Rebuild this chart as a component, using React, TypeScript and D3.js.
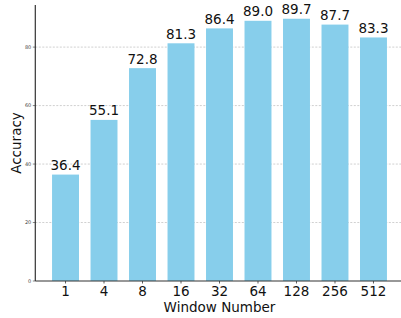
import * as d3 from 'd3'

const WINDOWS = ['1', '4', '8', '16', '32', '64', '128', '256', '512']
const ACCURACY = [36.4, 55.1, 72.8, 81.3, 86.4, 89.0, 89.7, 87.7, 83.3]
const Y_TICKS = [0, 20, 40, 60, 80]

const WIDTH = 401
const HEIGHT = 318
const FONT = 'DejaVu Sans, sans-serif'

export default function App() {
  const x = d3.scaleLinear().domain([-0.785, 8.785]).range([35.3, 403.7])
  const y = d3.scaleLinear().domain([0, 94.4]).range([281, 5])
  const barWidth = (x(0.7) - x(0)) as number

  return (
    <svg
      width={WIDTH}
      height={HEIGHT}
      style={{ position: 'absolute', left: 0, top: 0, background: '#fff' }}
      fontFamily={FONT}
    >
      {/* grid */}
      {Y_TICKS.filter((t) => t > 0).map((t) => (
        <line
          key={t}
          x1={x(-0.785)}
          x2={WIDTH}
          y1={y(t)}
          y2={y(t)}
          stroke="#b0b0b0"
          strokeWidth={0.6}
          strokeDasharray="2,1.5"
        />
      ))}

      {/* bars */}
      {ACCURACY.map((v, i) => (
        <g key={WINDOWS[i]}>
          <rect
            x={x(i) - barWidth / 2}
            y={y(v)}
            width={barWidth}
            height={y(0) - y(v)}
            fill="#87ceeb"
          />
          <text
            x={x(i)}
            y={y(v) - 4.5}
            textAnchor="middle"
            fontSize={13.5}
            fill="#111"
          >
            {v.toFixed(1)}
          </text>
        </g>
      ))}

      {/* y axis */}
      <line x1={x(-0.785)} x2={x(-0.785)} y1={5} y2={281} stroke="#333" strokeWidth={1.2} />
      {Y_TICKS.map((t) => (
        <g key={t}>
          <line x1={x(-0.785) - 2.5} x2={x(-0.785)} y1={y(t)} y2={y(t)} stroke="#333" strokeWidth={0.6} />
          <text
            x={x(-0.785) - 4}
            y={y(t) + 1.8}
            textAnchor="end"
            fontSize={5}
            fill="#444"
          >
            {t}
          </text>
        </g>
      ))}

      {/* x axis */}
      <line x1={x(-0.785)} x2={WIDTH} y1={281} y2={281} stroke="#333" strokeWidth={1.2} />
      {WINDOWS.map((w, i) => (
        <g key={w}>
          <line x1={x(i)} x2={x(i)} y1={281} y2={283.5} stroke="#333" strokeWidth={0.8} />
          <text x={x(i)} y={296} textAnchor="middle" fontSize={13.5} fill="#111">
            {w}
          </text>
        </g>
      ))}

      <text x={219.5} y={312} textAnchor="middle" fontSize={13.5} fill="#111">
        Window Number
      </text>
      <text
        transform={`translate(20.5 ${143}) rotate(-90)`}
        textAnchor="middle"
        fontSize={13.5}
        fill="#111"
      >
        Accuracy
      </text>
    </svg>
  )
}
